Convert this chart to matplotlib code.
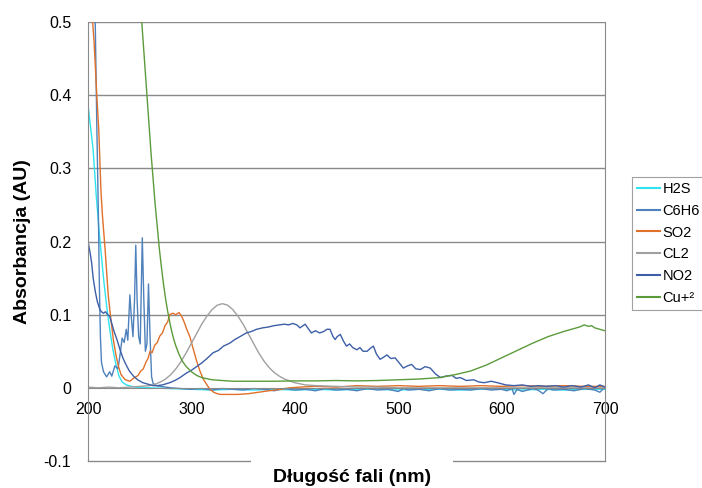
import matplotlib
matplotlib.use("Agg")
import matplotlib.pyplot as plt

plt.rcParams['font.family'] = ['Liberation Sans', 'DejaVu Sans']

# wavelength (nm) / absorbance (AU)
h2s_nm = [200, 203, 205, 208, 211, 215, 218, 221, 224, 227, 230, 233, 237, 245, 260, 280, 300, 320,
          340, 360, 380, 400, 420, 440, 460, 480, 500, 520, 540, 560, 580, 600, 620, 640, 660, 680, 700]
h2s = [0.387, 0.35, 0.325, 0.262, 0.21, 0.15, 0.112, 0.08, 0.053, 0.032, 0.016, 0.008, 0.004, 0.001,
       0.0, -0.001, -0.002, -0.003, -0.002, -0.003, -0.002, -0.003, -0.002, -0.003, -0.002, -0.002,
       -0.003, -0.002, -0.002, -0.003, -0.002, -0.002, -0.003, -0.002, -0.003, -0.002, -0.002]

c6h6_nm = [200, 205, 207, 208.5, 210, 211, 212, 213, 215, 218, 221, 223, 226, 229, 231, 233, 235, 237,
           238.5, 240.5, 242, 243.5, 245, 246.2, 247.5, 249, 250.5, 252.5, 254, 255.5, 257, 258.5, 260,
           261.5, 263, 266, 270, 280, 290, 300, 310, 320, 330, 340, 350, 360, 370, 380, 390, 400, 410,
           420, 430, 440, 450, 460, 470, 480, 490, 500, 505, 510, 520, 530, 540, 550, 560, 570, 580,
           590, 600, 605, 610, 612, 615, 620, 630, 635, 640, 645, 650, 660, 670, 680, 690, 695, 700]
c6h6 = [0.9, 0.62, 0.5, 0.36, 0.24, 0.14, 0.07, 0.035, 0.022, 0.015, 0.022, 0.016, 0.03, 0.026, 0.045,
        0.068, 0.062, 0.08, 0.065, 0.127, 0.095, 0.07, 0.12, 0.195, 0.12, 0.07, 0.06, 0.205, 0.12, 0.05,
        0.06, 0.142, 0.07, 0.015, 0.006, 0.003, 0.002, 0.0, -0.001, -0.002, -0.001, -0.003, -0.001,
        -0.002, -0.003, -0.001, -0.002, -0.004, -0.001, -0.003, -0.002, -0.004, -0.001, -0.003, -0.002,
        -0.004, -0.001, -0.003, -0.002, -0.005, -0.001, -0.003, -0.002, -0.004, -0.001, -0.003, -0.002,
        -0.003, -0.001, -0.003, -0.002, -0.004, -0.001, -0.009, -0.002, -0.005, -0.001, -0.003, -0.008,
        -0.001, -0.003, -0.002, -0.004, -0.001, -0.003, -0.006, 0.001]

so2_nm = [200, 203, 204.5, 206, 208.5, 210.5, 212.5, 214, 216.5, 219.5, 222, 224.5, 227, 229.5, 232,
          236, 240.5, 244, 248.5, 251, 253.5, 256, 258, 260, 262, 264.5, 267, 269.5, 272, 274.5, 277,
          279, 282, 285, 288, 290.5, 293, 295.5, 298.5, 302, 305, 308.5, 311.5, 315, 318, 321.5, 325,
          328, 335, 345, 355, 365, 375, 386, 395, 405, 420, 440, 460, 480, 500, 520, 540, 560, 580,
          600, 620, 640, 660, 680, 700]
so2 = [0.9, 0.6, 0.5, 0.47, 0.4, 0.35, 0.27, 0.235, 0.19, 0.128, 0.095, 0.066, 0.045, 0.029, 0.018,
       0.011, 0.009, 0.013, 0.017, 0.023, 0.026, 0.035, 0.04, 0.05, 0.048, 0.058, 0.062, 0.071, 0.075,
       0.085, 0.09, 0.1, 0.102, 0.1, 0.103, 0.098, 0.09, 0.08, 0.07, 0.052, 0.037, 0.022, 0.012, 0.004,
       -0.002, -0.006, -0.008, -0.009, -0.009, -0.009, -0.008, -0.006, -0.004, -0.002, 0.0, 0.001,
       0.002, 0.001, 0.003, 0.002, 0.003, 0.002, 0.003, 0.002, 0.003, 0.002, 0.003, 0.002, 0.003,
       0.002, 0.002]

cl2_nm = [200, 210, 220, 230, 240, 250, 260, 265, 270, 275, 280, 285, 290, 295, 300, 305, 310, 315,
          320, 325, 330, 335, 340, 345, 350, 355, 360, 365, 370, 375, 380, 385, 390, 400, 410, 420,
          440, 460, 480, 500, 550, 600, 650, 700]
cl2 = [0.001, 0.0, 0.001, 0.0, 0.001, 0.002, 0.003, 0.005, 0.008, 0.012, 0.018, 0.026, 0.036, 0.048,
       0.061, 0.074, 0.087, 0.098, 0.107, 0.113, 0.115, 0.113, 0.107, 0.098, 0.087, 0.074, 0.061,
       0.048, 0.037, 0.028, 0.021, 0.016, 0.012, 0.007, 0.004, 0.003, 0.002, 0.001, 0.001, 0.0, 0.0,
       0.0, 0.0, 0.0]

no2_nm = [200, 202, 203.5, 205, 207, 209, 211.5, 213, 215, 217, 219, 221, 223, 225, 228, 231, 234,
          237, 240, 244, 248, 253, 258, 263, 267, 272, 279, 284, 289, 295, 300, 305, 310, 315, 321,
          326, 331, 337, 342, 347, 353, 358, 363, 369, 374, 380, 385, 390, 394, 398, 402, 405, 408,
          410, 413, 416, 420, 424, 428, 431, 434, 437, 439, 441, 444, 447, 450, 453, 456, 460, 463,
          466, 470, 473, 476, 479, 482.5, 486, 489, 493, 497, 501, 505, 509, 513, 517, 521.5, 526,
          531, 536, 541, 546, 552, 556, 560, 566, 573, 578, 583, 590, 596, 604, 612, 620, 628, 636,
          644, 652, 660, 668, 677, 684, 690, 695, 700]
no2 = [0.2, 0.185, 0.171, 0.15, 0.132, 0.118, 0.107, 0.104, 0.102, 0.104, 0.1, 0.098, 0.088, 0.078,
       0.066, 0.052, 0.04, 0.031, 0.023, 0.016, 0.011, 0.007, 0.005, 0.003, 0.003, 0.004, 0.007, 0.01,
       0.014, 0.02, 0.024, 0.029, 0.034, 0.04, 0.048, 0.051, 0.057, 0.061, 0.066, 0.07, 0.075, 0.077,
       0.08, 0.082, 0.083, 0.085, 0.086, 0.087, 0.086, 0.088, 0.086, 0.082, 0.085, 0.087, 0.081,
       0.075, 0.078, 0.075, 0.077, 0.08, 0.08, 0.07, 0.066, 0.07, 0.073, 0.064, 0.057, 0.06, 0.055,
       0.052, 0.055, 0.05, 0.05, 0.054, 0.057, 0.046, 0.039, 0.042, 0.045, 0.04, 0.041, 0.034, 0.027,
       0.03, 0.032, 0.026, 0.025, 0.029, 0.027, 0.019, 0.014, 0.016, 0.017, 0.013, 0.014, 0.01, 0.011,
       0.008, 0.007, 0.009, 0.007, 0.004, 0.003, 0.004, 0.002, 0.003, 0.002, 0.003, 0.001, 0.003,
       0.001, 0.004, 0.0, 0.004, 0.001]

cu_nm = [250, 252, 254.5, 257, 259, 261, 263, 265, 267, 269, 271, 273, 275, 277, 279, 281, 283, 285,
         288, 291, 295, 300, 305, 310, 320, 330, 340, 360, 380, 400, 420, 440, 460, 480, 500, 520,
         540, 555, 570, 585, 600, 615, 630, 645, 660, 670, 675, 680, 684, 687, 690, 695, 700]
cu = [0.54, 0.5, 0.45, 0.4, 0.36, 0.32, 0.285, 0.25, 0.22, 0.19, 0.165, 0.142, 0.122, 0.105, 0.09,
      0.077, 0.066, 0.057, 0.046, 0.037, 0.029, 0.022, 0.017, 0.014, 0.011, 0.01, 0.009, 0.009,
      0.009, 0.0095, 0.0095, 0.01, 0.0095, 0.01, 0.011, 0.012, 0.014, 0.018, 0.023, 0.031, 0.041,
      0.051, 0.061, 0.07, 0.077, 0.081, 0.083, 0.086, 0.084, 0.085, 0.082, 0.08, 0.078]

series = [
    ('H2S', h2s_nm, h2s, '#2fe3ef'),
    ('C6H6', c6h6_nm, c6h6, '#4f81bd'),
    ('SO2', so2_nm, so2, '#e0702a'),
    ('CL2', cl2_nm, cl2, '#a0a0a0'),
    ('NO2', no2_nm, no2, '#3d5fa8'),
    ('Cu+²', cu_nm, cu, '#5c9b3b'),
]

x_ticks = [200, 300, 400, 500, 600, 700]
y_ticks = [-0.1, 0, 0.1, 0.2, 0.3, 0.4, 0.5]
y_tick_labels = ['-0.1', '0', '0.1', '0.2', '0.3', '0.4', '0.5']

grid_color = '#8a8a8a'

fig = plt.figure(figsize=(7.02, 4.88), dpi=100)
ax = fig.add_axes([88 / 702, 1 - 461 / 488, (605 - 88) / 702, (461 - 22) / 488])

for name, nm, ab, color in series:
    ax.plot(nm, ab, color=color, lw=1.0, label=name)

ax.set_xlim(200, 700)
ax.set_ylim(-0.1, 0.5)
ax.set_yticks(y_ticks, y_tick_labels)
ax.set_xticks(x_ticks)
ax.tick_params(length=0, labelsize=11.5)
ax.tick_params(axis='y', pad=12)
ax.tick_params(axis='x', pad=10)

# horizontal gridlines, value axis crossing at 0
for y in y_ticks[2:]:
    ax.axhline(y, color=grid_color, lw=1.0, zorder=0.5)
ax.spines['bottom'].set_position(('data', 0))
ax.spines['bottom'].set_color(grid_color)
ax.spines['top'].set_visible(False)
ax.spines['left'].set_color(grid_color)
ax.spines['right'].set_color(grid_color)
ax.axhline(-0.1, color=grid_color, lw=1.0, clip_on=False)

ax.set_ylabel('Absorbancja (AU)', fontsize=14, fontweight='bold', labelpad=9)
fig.text(352 / 702, 1 - 478 / 488, 'Długość fali (nm)', fontsize=14, fontweight='bold',
         ha='center', va='center', zorder=5,
         bbox=dict(facecolor='white', edgecolor='none', pad=16))

leg = fig.legend(loc='upper left', bbox_to_anchor=(632 / 702, 1 - 177 / 488), fontsize=10.5,
                 frameon=True, fancybox=False, handlelength=1.6, handletextpad=0.15,
                 labelspacing=0.53, borderpad=0.35, borderaxespad=0)
leg.get_frame().set_edgecolor(grid_color)
leg.get_frame().set_linewidth(0.8)
for line in leg.get_lines():
    line.set_linewidth(1.5)

fig.savefig('out.png', dpi=100)
